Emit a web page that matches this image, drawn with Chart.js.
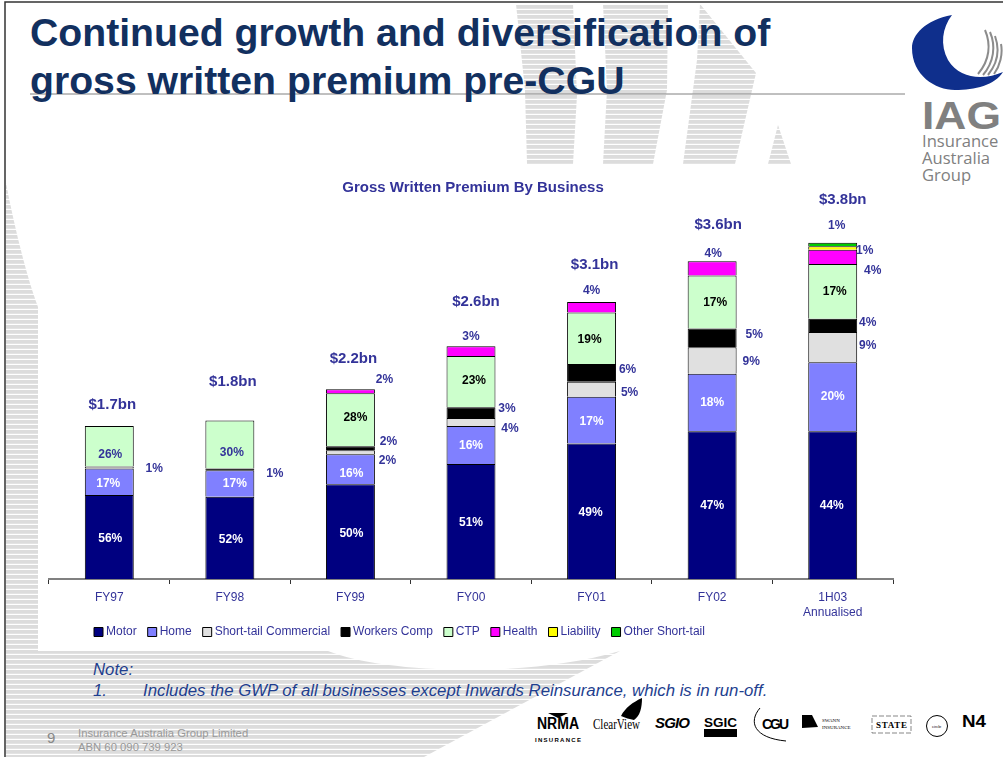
<!DOCTYPE html>
<html>
<head>
<meta charset="utf-8">
<title>Gross Written Premium By Business</title>
<script src="https://cdn.jsdelivr.net/npm/chart.js@4"></script>
<style>
  html, body { margin: 0; padding: 0; background: #fff; }
  #slide { position: relative; width: 1003px; height: 757px; overflow: hidden; font-family: "Liberation Sans", Arial, sans-serif; }
  #art, #chart { position: absolute; left: 0; top: 0; }
  .txt { position: absolute; white-space: nowrap; }
  #heading { left: 30px; top: 9px; font-size: 39.2px; line-height: 48px; font-weight: bold; color: #12305f; }
  .note { font-size: 16.8px; font-style: italic; color: #1f3f8f; line-height: 18px; }
  .foot { font-size: 11.3px; color: #999; line-height: 14px; }
</style>
</head>
<body>
<div id="slide">
  <svg id="art" width="1003" height="757" xmlns="http://www.w3.org/2000/svg">
    <defs>
      <pattern id="stripes" width="6" height="5" patternUnits="userSpaceOnUse">
        <rect width="6" height="3.8" fill="#dcdcdc"></rect>
      </pattern>
    </defs>
    <!-- ghost logo behind the slide -->
    <g fill="url(#stripes)">
      <path d="M516,4 L573,4 L577,95 L573,164 L527,164 L525,90 Z"></path>
      <path d="M603,4 L668,4 L667,90 L653,164 L603,164 L607,90 Z"></path>
      <path d="M700,4 L756,73 L735,164 L683,164 L697,60 Z"></path>
      <path d="M778,125 L791,164 L768,164 Z"></path>
      <path d="M6,183 C14,225 26,275 38,307 L38,651 L328,651 C380,672 520,680 620,651 L424,757 L6,757 Z"></path>
    </g>
    <path d="M5,757 L5,2 L1003,2" fill="none" stroke="#333" stroke-width="1.5"></path>
    <line x1="30" y1="94" x2="905" y2="94" stroke="#808080" stroke-width="1"></line>
    <!-- IAG logo -->
    <path d="M952,15 C925,20 912,35 912,48 C912,75 935,90 955,90 C975,90 995,85 1003,72 C985,80 960,80 948,60 C940,45 942,28 952,15 Z" fill="#0f2f8c"></path>
    <g fill="none" stroke="#8c8c8c" stroke-width="2">
      <path d="M985,30 C991,44 990,60 978,74"></path>
      <path d="M990,32 C996,46 994,62 983,75"></path>
      <path d="M995,36 C1000,50 997,64 988,75"></path>
      <path d="M1001,44 C1003,54 1000,66 994,74"></path>
    </g>
    <text x="922" y="129" font-family="Liberation Sans" font-weight="bold" font-size="38" fill="#808080" textLength="79" lengthAdjust="spacingAndGlyphs">IAG</text>
    <g font-family="Open Sans" font-size="16.6" fill="#808080">
      <text x="922" y="147">Insurance</text>
      <text x="922" y="164">Australia</text>
      <text x="922" y="181">Group</text>
    </g>
    <!-- brand strip -->
    <g fill="#000" font-family="Liberation Sans">
      <text x="537" y="729" font-size="16" font-weight="bold" textLength="42" lengthAdjust="spacingAndGlyphs">NRMA</text>
      <path d="M548,713 L568,713 L558,718 Z"></path>
      <text x="535" y="742" font-size="6" font-weight="bold" textLength="46">INSURANCE</text>
      <text x="593" y="729" font-size="15" font-family="Liberation Serif" textLength="47" lengthAdjust="spacingAndGlyphs">ClearView</text>
      <path d="M621,716 C625,708 633,702 642,698 C642,708 640,716 634,720 C630,719 625,718 621,716 Z"></path>
      <text x="655" y="728" font-size="15" font-weight="bold" font-style="italic" textLength="35">SGIO</text>
      <text x="704" y="727" font-size="13" font-weight="bold" textLength="33" lengthAdjust="spacingAndGlyphs">SGIC</text>
      <rect x="704" y="729" width="33" height="8"></rect>
      <text x="762" y="729" font-size="14" font-weight="bold" textLength="27">CGU</text>
      <path d="M760,708 C748,722 754,738 786,741" fill="none" stroke="#000" stroke-width="1"></path>
      <path d="M802,715 L812,715 L818,727 L802,728 Z"></path>
      <text x="822" y="722" font-size="5" font-family="Liberation Serif">SWANN</text>
      <text x="822" y="729" font-size="5" font-family="Liberation Serif">INSURANCE</text>
      <rect x="872" y="716" width="39" height="17" fill="none" stroke="#555" stroke-width="0.7" stroke-dasharray="5 2"></rect>
      <text x="876" y="728" font-size="9" font-weight="bold" font-family="Liberation Serif" textLength="31">STATE</text>
      <circle cx="937" cy="726" r="10.5" fill="none" stroke="#000" stroke-width="1"></circle>
      <text x="932" y="728" font-size="4">circle</text>
      <text x="962" y="727" font-size="17" font-weight="bold" textLength="24" lengthAdjust="spacingAndGlyphs">N4</text>
    </g>
  </svg>
  <div id="heading" class="txt">Continued growth and diversification of<br>gross written premium pre-CGU</div>
  <div class="txt note" style="left:93px;top:661px">Note:</div>
  <div class="txt note" style="left:93px;top:682px">1.</div>
  <div class="txt note" style="left:143px;top:682px">Includes the GWP of all businesses except Inwards Reinsurance, which is in run-off.</div>
  <div class="txt" style="left:47px;top:729px;font-size:15px;color:#888">9</div>
  <div class="txt foot" style="left:78px;top:726px">Insurance Australia Group Limited</div>
  <div class="txt foot" style="left:78px;top:740px">ABN 60 090 739 923</div>
  <canvas id="chart" width="1003" height="757"></canvas>
</div>

<script>
const categories = ["FY97", "FY98", "FY99", "FY00", "FY01", "FY02", ["1H03", "Annualised"]];
const totals = ["$1.7bn", "$1.8bn", "$2.2bn", "$2.6bn", "$3.1bn", "$3.6bn", "$3.8bn"];

// segment values in $bn
const motor = [0.95, 0.93, 1.07, 1.30, 1.53, 1.67, 1.67];
const home = [0.30, 0.30, 0.34, 0.43, 0.53, 0.65, 0.78];
const shortTail = [0.02, null, 0.045, 0.09, 0.17, 0.30, 0.34];
const workersComp = [null, 0.02, 0.045, 0.12, 0.20, 0.21, 0.15];
const ctp = [0.46, 0.54, 0.60, 0.58, 0.58, 0.60, 0.62];
const health = [null, null, 0.045, 0.11, 0.12, 0.16, 0.16];
const liability = [null, null, null, null, null, null, 0.04];
const otherShortTail = [null, null, null, null, null, null, 0.04];

// percentage labels printed on the chart
const motorPct = ["56%", "52%", "50%", "51%", "49%", "47%", "44%"];
const homePct = ["17%", "17%", "16%", "16%", "17%", "18%", "20%"];
const shortTailPct = ["1%", null, "2%", "4%", "5%", "9%", "9%"];
const workersCompPct = [null, "1%", "2%", "3%", "6%", "5%", "4%"];
const ctpPct = ["26%", "30%", "28%", "23%", "19%", "17%", "17%"];
const healthPct = [null, null, "2%", "3%", "4%", "4%", "4%"];
const liabilityPct = [null, null, null, null, null, null, "1%"];
const otherPct = [null, null, null, null, null, null, "1%"];

const INK = "#333399";

const series = [
  { label: "Motor", data: motor, color: "#000080", pct: motorPct, ink: () => "#fff",
    nudge: [[1,1],[1,1],[1,1],[0,0],[-1,0],[0,0],[-1,0]] },
  { label: "Home", data: home, color: "#8080ff", pct: homePct, ink: () => "#fff",
    nudge: [[-1,1],[5,-1],[1,3],[0,0],[0,1],[0,-1],[0,-1]] },
  { label: "Short-tail Commercial", data: shortTail, color: "#e0e0e0", pct: shortTailPct, ink: () => INK,
    nudge: [[45,0],null,[37,7],[39,6],[38,3],[39,0],[35,-2]] },
  { label: "Workers Comp", data: workersComp, color: "#000000", pct: workersCompPct, ink: () => INK,
    nudge: [null,[45,3],[38,-8],[36,-5],[36,-4],[42,-4],[35,-4]] },
  { label: "CTP", data: ctp, color: "#ccffcc", pct: ctpPct, ink: (i) => (i < 2 ? INK : "#000"),
    nudge: [[1,7],[2,7],[5,-3],[3,-2],[-2,0],[3,0],[2,-1]] },
  { label: "Health", data: health, color: "#ff00ff", pct: healthPct, ink: () => INK,
    nudge: [null,null,[34,-12],[0,-15],[0,-18],[1,-16],[40,13]] },
  { label: "Liability", data: liability, color: "#ffff00", pct: liabilityPct, ink: () => INK,
    nudge: [null,null,null,null,null,null,[32,2]] },
  { label: "Other Short-tail", data: otherShortTail, color: "#00cc00", pct: otherPct, ink: () => INK,
    nudge: [null,null,null,null,null,null,[4,-20]] },
];

// how far each total sits from its bar top
const totalNudge = [[3,21],[3,39],[3,30],[5,44],[3,37],[6,36],[10,43]];

const barLabels = {
  id: "barLabels",
  afterLayout(chart) {
    chart.legend.left = 83;
    chart.legend.top = 612;
    chart.titleBlock.left += 2;
    chart.titleBlock.right += 2;
  },
  afterDraw(chart) {
    const { ctx, scales: { x, y } } = chart;
    ctx.save();
    ctx.textAlign = "center";
    ctx.textBaseline = "middle";
    ctx.font = 'bold 12px "Liberation Sans"';
    categories.forEach((c, i) => {
      let run = 0;
      series.forEach((s) => {
        const v = s.data[i];
        if (v == null) return;
        const mid = y.getPixelForValue(run + v / 2);
        run += v;
        const n = s.nudge[i];
        ctx.fillStyle = s.ink(i);
        ctx.fillText(s.pct[i], x.getPixelForValue(i) + n[0], mid + n[1] + 1);
      });
      ctx.save();
      ctx.font = 'bold 15px "Liberation Sans"';
      ctx.fillStyle = INK;
      ctx.fillText(totals[i], x.getPixelForValue(i) + totalNudge[i][0], y.getPixelForValue(run) - totalNudge[i][1]);
      ctx.restore();
    });
    ctx.restore();
  },
};

new Chart(document.getElementById("chart").getContext("2d"), {
  type: "bar",
  data: {
    labels: categories,
    datasets: series.map((s) => ({
      label: s.label,
      data: s.data,
      backgroundColor: s.color,
      borderColor: "#000",
      borderWidth: 1,
      barPercentage: 0.406,
      categoryPercentage: 1,
    })),
  },
  options: {
    responsive: false,
    animation: false,
    layout: { padding: { left: 49, right: 110, top: 179, bottom: 98 } },
    plugins: {
      tooltip: { enabled: false },
      title: {
        display: true,
        text: "Gross Written Premium By Business",
        color: INK,
        font: { family: "Liberation Sans", size: 15, weight: "bold" },
        padding: { top: 0, bottom: 28 },
      },
      legend: {
        position: "bottom",
        align: "start",
        labels: {
          color: INK,
          font: { family: "Liberation Sans", size: 12 },
          usePointStyle: true,
          pointStyle: "rect",
          boxWidth: 3,
          boxHeight: 9,
          padding: 14,
        },
      },
    },
    scales: {
      x: {
        stacked: true,
        afterFit: (s) => { s.height = 44; },
        grid: { drawOnChartArea: false, color: "#333", tickLength: 5 },
        border: { color: "#808080", width: 2 },
        ticks: { color: INK, font: { family: "Liberation Sans", size: 12, lineHeight: 1.25 }, padding: 6, maxRotation: 0 },
      },
      y: { stacked: true, display: false, min: 0, max: 4, grid: { display: false } },
    },
  },
  plugins: [barLabels],
});
</script>
</body>
</html>
